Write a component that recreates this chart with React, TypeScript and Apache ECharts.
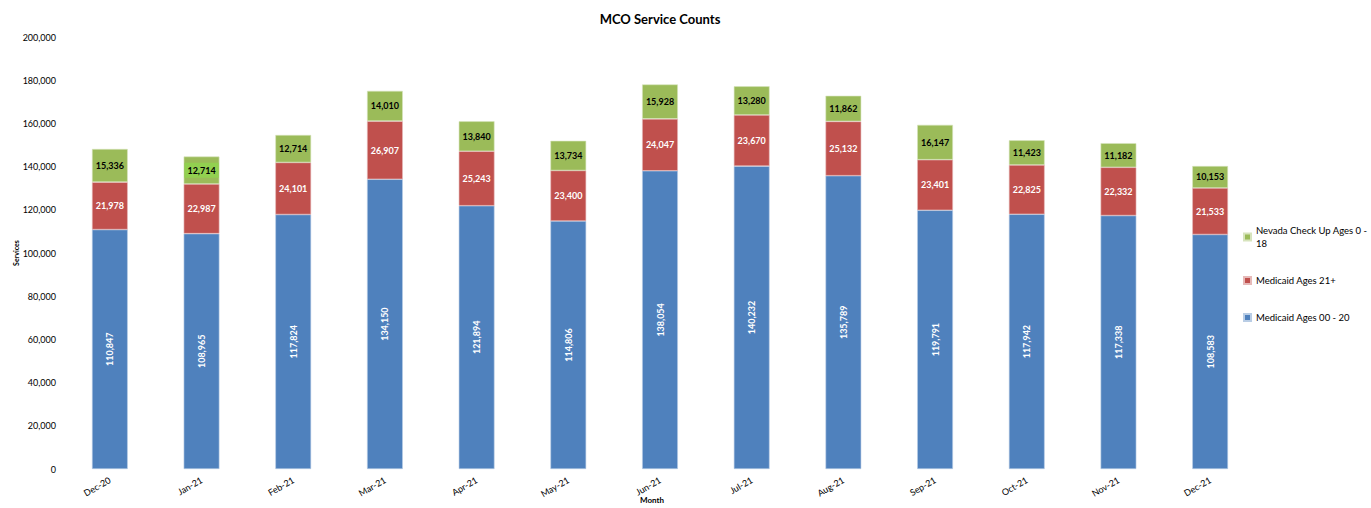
import React, { useEffect, useRef } from "react";
import * as echarts from "echarts";

const categories = ["Dec-20", "Jan-21", "Feb-21", "Mar-21", "Apr-21", "May-21", "Jun-21", "Jul-21", "Aug-21", "Sep-21", "Oct-21", "Nov-21", "Dec-21"];
const medicaid0020 = [110847, 108965, 117824, 134150, 121894, 114806, 138054, 140232, 135789, 119791, 117942, 117338, 108583];
const medicaid21 = [21978, 22987, 24101, 26907, 25243, 23400, 24047, 23670, 25132, 23401, 22825, 22332, 21533];
const nevadaCheckUp = [15336, 12714, 12714, 14010, 13840, 13734, 15928, 13280, 11862, 16147, 11423, 11182, 10153];
const seriesNames = ["Medicaid Ages 00 - 20", "Medicaid Ages 21+", "Nevada Check Up Ages 0 - 18"];
const xAxisTitle = "Month";
const yAxisTitle = "Services";
const highlightedLabelIndex = 1;

const FONT = "Lato, 'Open Sans', sans-serif";
const fmt = (v: number) => v.toLocaleString("en-US");

export default function App() {
  const ref = useRef<HTMLDivElement>(null);
  useEffect(() => {
    const chart = echarts.init(ref.current!, undefined, { renderer: "svg" });
    const barCommon = {
      type: "bar",
      stack: "total",
      barWidth: "39%",
    };
    chart.setOption({
      animation: false,
      textStyle: { fontFamily: FONT },
      title: {
        text: "MCO Service Counts",
        left: 655,
        textAlign: "center",
        top: 7,
        textStyle: { fontSize: 13, fontWeight: "bold", color: "#000", fontFamily: FONT },
      },
      graphic: [
        {
          type: "text",
          left: 640,
          top: 496,
          style: { text: xAxisTitle, fontSize: 8, fontWeight: "bold", fill: "#000", fontFamily: FONT },
        },
        {
          type: "text",
          x: 16,
          y: 253,
          rotation: Math.PI / 2,
          style: {
            text: yAxisTitle,
            fontSize: 7,
            fontWeight: "bold",
            fill: "#000",
            fontFamily: FONT,
            align: "center",
            verticalAlign: "middle",
          },
        },
      ],
      legend: {
        orient: "vertical",
        left: 1238,
        top: 219,
        itemGap: 24,
        itemWidth: 7,
        itemHeight: 7,
        icon: "rect",
        data: [seriesNames[2], seriesNames[1], seriesNames[0]],
        formatter: (n: string) => (n === seriesNames[2] ? "Nevada Check Up Ages 0 -\n18" : n),
        textStyle: { fontSize: 9.5, color: "#000", fontFamily: FONT, lineHeight: 13 },
      },
      grid: { left: 64, right: 115, top: 37, bottom: 39, containLabel: false, outerBoundsMode: "none" },
      xAxis: {
        type: "category",
        data: categories,
        axisLine: { show: false },
        axisTick: { show: false },
        axisLabel: { rotate: 30, fontSize: 9, color: "#000", margin: 10 },
      },
      yAxis: {
        type: "value",
        min: 0,
        max: 200000,
        interval: 20000,
        axisLine: { show: false },
        axisTick: { show: false },
        splitLine: { show: false },
        axisLabel: { fontSize: 9, color: "#000", margin: 8, formatter: (v: number) => fmt(v) },
      },
      series: [
        {
          ...barCommon,
          name: seriesNames[0],
          data: medicaid0020,
          itemStyle: { color: "#4F81BD", borderColor: "#B9CDE5", borderWidth: 0.6 },
          label: {
            show: true,
            position: "inside",
            rotate: 90,
            color: "#fff",
            fontWeight: "bold",
            fontSize: 9,
            formatter: (p: any) => fmt(p.value),
          },
        },
        {
          ...barCommon,
          name: seriesNames[1],
          data: medicaid21,
          itemStyle: { color: "#C0504D", borderColor: "#E6B9B8", borderWidth: 0.6 },
          label: {
            show: true,
            position: "inside",
            color: "#fff",
            fontWeight: "bold",
            fontSize: 9,
            formatter: (p: any) => fmt(p.value),
          },
        },
        {
          ...barCommon,
          name: seriesNames[2],
          data: nevadaCheckUp.map((v, i) =>
            i === highlightedLabelIndex
              ? { value: v, label: { backgroundColor: "#92D050", padding: [3, 3] } }
              : v
          ),
          itemStyle: { color: "#9BBB59", borderColor: "#D7E4BD", borderWidth: 0.6 },
          label: {
            show: true,
            position: "inside",
            color: "#000",
            fontWeight: "bold",
            fontSize: 9,
            formatter: (p: any) => fmt(p.value),
          },
        },
      ],
    });
    return () => chart.dispose();
  }, []);
  return (
    <div
      ref={ref}
      style={{ position: "fixed", left: 0, top: 0, width: 1371, height: 508, background: "#fff" }}
    />
  );
}
